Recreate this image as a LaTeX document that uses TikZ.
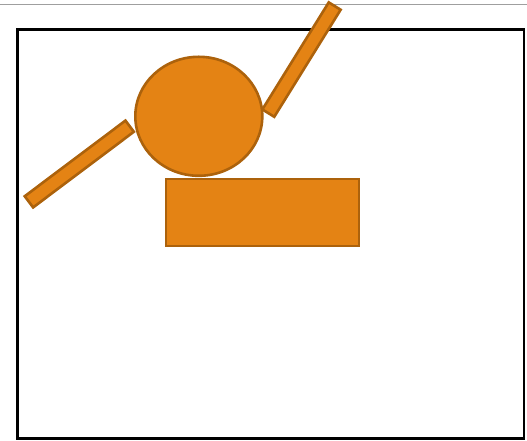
\documentclass[tikz,border=0pt]{standalone}
\usepackage{tikz}
\usetikzlibrary{shapes.geometric}
\definecolor{partfill}{RGB}{228,131,20}
\definecolor{partline}{RGB}{172,98,12}
\tikzset{
  part/.style={draw=partline, fill=partfill, line width=2.6pt, inner sep=0pt},
  arm/.style={part, rectangle, minimum width=126pt, minimum height=14pt},
  frame/.style={draw=black, line width=2.6pt}
}
\begin{document}
\begin{tikzpicture}[x=1pt,y=1pt]
    \useasboundingbox (0,0) rectangle (527,441);

    % === Background ===
    \draw[gray!75, line width=1pt] (0,436.7) -- (527,436.7);
    \draw[frame] (17.5,411.5) rectangle (524,2.5);

    % === Arms ===
    \node[arm, rotate=36.9] (leftarm) at (79.3,277) {};
    \node[arm, rotate=58.2] (rightarm) at (301.5,381.4) {};

    % === Head and body ===
    \node[part, ellipse, minimum width=127pt, minimum height=119pt] (head) at (198.8,324.7) {};
    \node[part, rectangle, minimum width=193pt, minimum height=67pt] (body) at (262.5,228.5) {};
\end{tikzpicture}
\end{document}
